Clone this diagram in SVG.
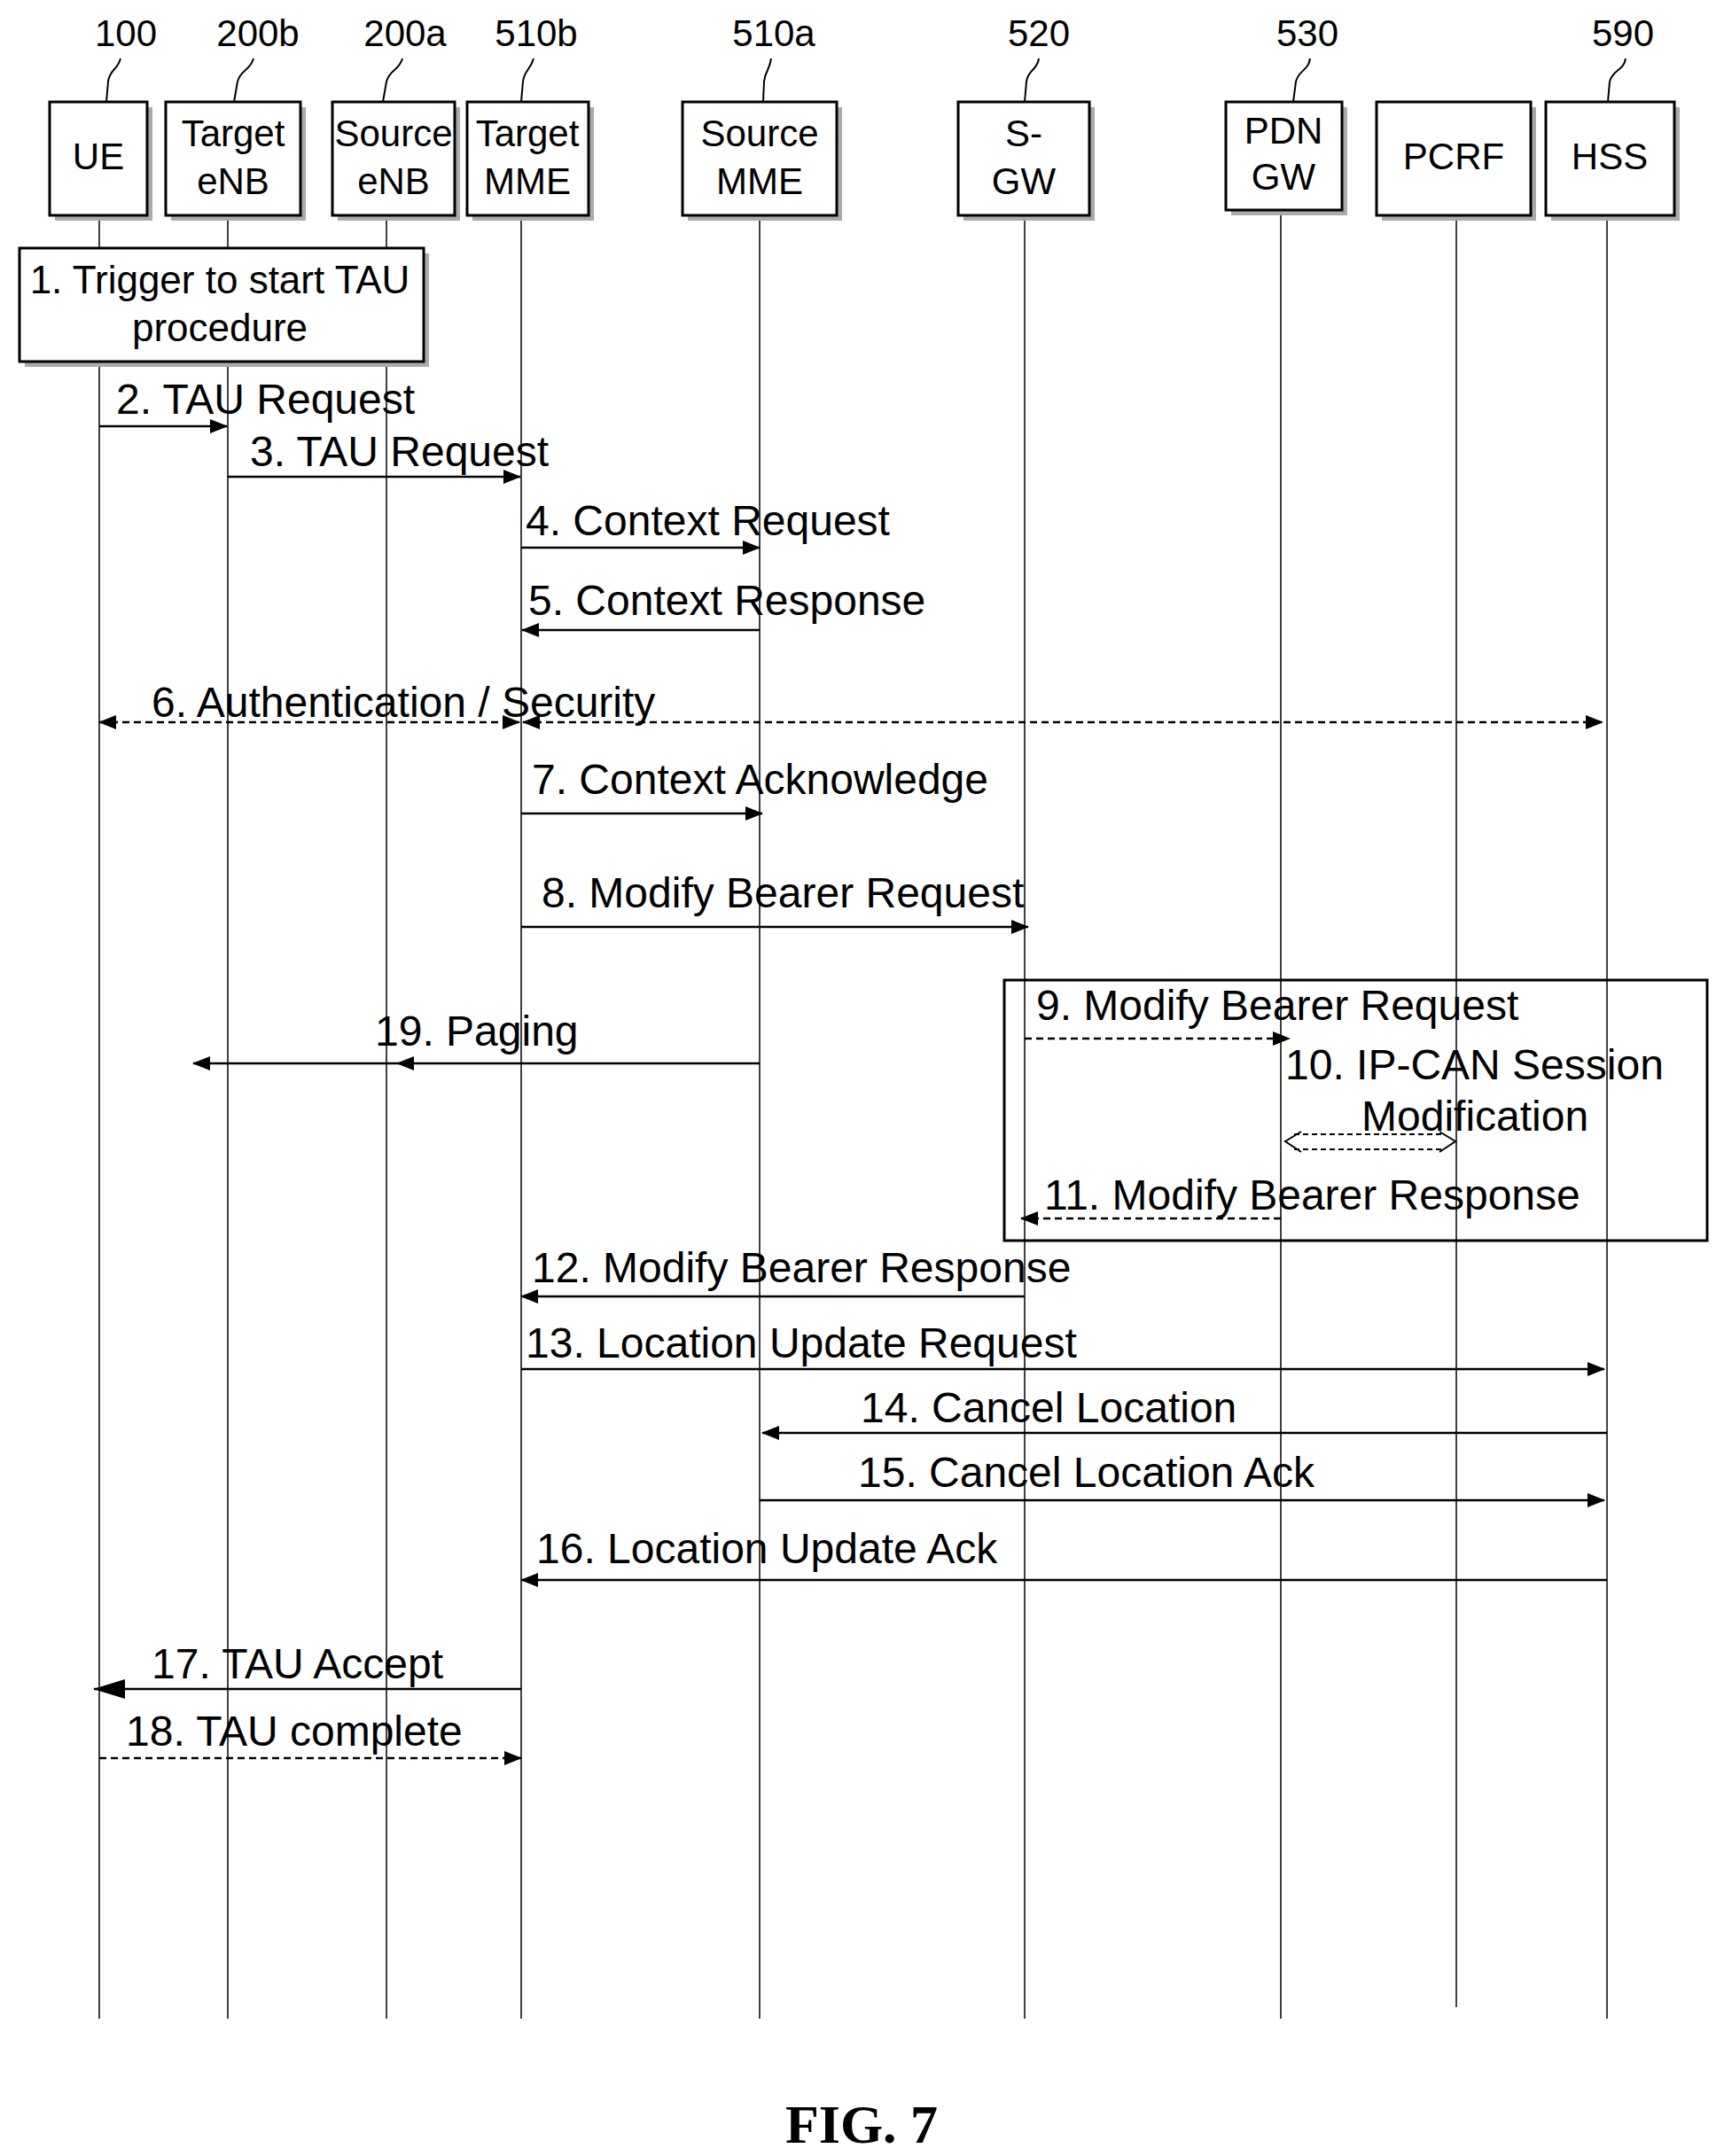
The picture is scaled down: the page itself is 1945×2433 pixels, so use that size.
<svg xmlns="http://www.w3.org/2000/svg" width="1945" height="2433" viewBox="0 0 1945 2433">
<defs>
<marker id="a" viewBox="0 0 20 16" refX="19" refY="8" markerWidth="20" markerHeight="16" markerUnits="userSpaceOnUse" orient="auto-start-reverse"><path d="M0,0 L20,8 L0,16 Z" fill="#000"/></marker>
<marker id="big" viewBox="0 0 36 22" refX="35" refY="11" markerWidth="36" markerHeight="22" markerUnits="userSpaceOnUse" orient="auto"><path d="M0,0 L36,11 L0,22 Z" fill="#000"/></marker>
</defs>
<style>
text{font-family:"Liberation Sans",Arial,sans-serif;fill:#000}
.n{font-size:42px;text-anchor:middle}
.b{font-size:42px;text-anchor:middle}
.m{font-size:48px}
.box{fill:#fff;stroke:#000;stroke-width:3}
.sh{fill:#aaa}
.ll{stroke:#000;stroke-width:1.5;fill:none}
.s{stroke:#000;stroke-width:2.5;fill:none}
.d{stroke:#000;stroke-width:2.5;fill:none;stroke-dasharray:8,5}
.lead{stroke:#000;stroke-width:2;fill:none}
</style>
<rect width="1945" height="2433" fill="#fff"/>
<g id="lifelines">
<line class="ll" x1="112" y1="243" x2="112" y2="2278"/>
<line class="ll" x1="257" y1="243" x2="257" y2="2278"/>
<line class="ll" x1="436" y1="243" x2="436" y2="2278"/>
<line class="ll" x1="588" y1="243" x2="588" y2="2278"/>
<line class="ll" x1="857" y1="243" x2="857" y2="2278"/>
<line class="ll" x1="1156" y1="243" x2="1156" y2="2278"/>
<line class="ll" x1="1445" y1="237" x2="1445" y2="2278"/>
<line class="ll" x1="1643" y1="243" x2="1643" y2="2265"/>
<line class="ll" x1="1813" y1="243" x2="1813" y2="2278"/>
</g>
<g id="n100"><text class="n" x="142" y="52">100</text><path class="lead" d="M136,66 C132,80 124,78 122,92 L120,115"/><rect class="sh" x="62" y="121" width="110" height="128"/><rect class="box" x="56" y="115" width="110" height="128"/><text class="b" x="111" y="191">UE</text></g>
<g id="n200b"><text class="n" x="291" y="52">200b</text><path class="lead" d="M286,66 C282,80 272,78 268,92 L264,115"/><rect class="sh" x="193" y="121" width="152" height="128"/><rect class="box" x="187" y="115" width="152" height="128"/><text class="b" x="263" y="165">Target</text><text class="b" x="263" y="219">eNB</text></g>
<g id="n200a"><text class="n" x="457" y="52">200a</text><path class="lead" d="M454,66 C450,80 440,78 436,92 L432,115"/><rect class="sh" x="381" y="121" width="138" height="128"/><rect class="box" x="375" y="115" width="138" height="128"/><text class="b" x="444" y="165">Source</text><text class="b" x="444" y="219">eNB</text></g>
<g id="n510b"><text class="n" x="605" y="52">510b</text><path class="lead" d="M602,66 C598,80 592,78 590,92 L588,115"/><rect class="sh" x="533" y="121" width="137" height="128"/><rect class="box" x="527" y="115" width="137" height="128"/><text class="b" x="595" y="165">Target</text><text class="b" x="595" y="219">MME</text></g>
<g id="n510a"><text class="n" x="873" y="52">510a</text><path class="lead" d="M870,66 C868,80 864,78 862,92 L861,115"/><rect class="sh" x="776" y="121" width="174" height="128"/><rect class="box" x="770" y="115" width="174" height="128"/><text class="b" x="857" y="165">Source</text><text class="b" x="857" y="219">MME</text></g>
<g id="n520"><text class="n" x="1172" y="52">520</text><path class="lead" d="M1172,66 C1170,80 1160,78 1158,92 L1156,115"/><rect class="sh" x="1087" y="121" width="148" height="128"/><rect class="box" x="1081" y="115" width="148" height="128"/><text class="b" x="1155" y="165">S-</text><text class="b" x="1155" y="219">GW</text></g>
<g id="n530"><text class="n" x="1475" y="52">530</text><path class="lead" d="M1478,66 C1476,80 1466,78 1462,92 L1459,115"/><rect class="sh" x="1389" y="121" width="131" height="122"/><rect class="box" x="1383" y="115" width="131" height="122"/><text class="b" x="1448" y="162">PDN</text><text class="b" x="1448" y="214">GW</text></g>
<g id="npcrf"><rect class="sh" x="1559" y="121" width="174" height="128"/><rect class="box" x="1553" y="115" width="174" height="128"/><text class="b" x="1640" y="191">PCRF</text></g>
<g id="n590"><text class="n" x="1831" y="52">590</text><path class="lead" d="M1834,66 C1832,80 1820,78 1816,92 L1814,115"/><rect class="sh" x="1750" y="121" width="145" height="128"/><rect class="box" x="1744" y="115" width="145" height="128"/><text class="b" x="1816" y="191">HSS</text></g>
<g id="step1"><rect class="sh" x="28" y="286" width="456" height="128"/><rect class="box" x="22" y="280" width="456" height="128"/><text class="b" x="248" y="331" style="font-size:44px">1. Trigger to start TAU</text><text class="b" x="248" y="385" style="font-size:44px">procedure</text></g>
<g id="box9"><rect x="1133" y="1106" width="793" height="294" fill="none" stroke="#000" stroke-width="3"/></g>
<g id="connectors">
<line class="s" x1="112" y1="481" x2="256" y2="481" marker-end="url(#a)"/>
<line class="s" x1="257" y1="538" x2="587" y2="538" marker-end="url(#a)"/>
<line class="s" x1="588" y1="618" x2="857" y2="618" marker-end="url(#a)"/>
<line class="s" x1="857" y1="711" x2="589" y2="711" marker-end="url(#a)"/>
<line class="d" x1="112" y1="815" x2="586" y2="815" marker-start="url(#a)" marker-end="url(#a)"/>
<line class="d" x1="590" y1="815" x2="1808" y2="815" marker-start="url(#a)" marker-end="url(#a)"/>
<line class="s" x1="588" y1="918" x2="860" y2="918" marker-end="url(#a)"/>
<line class="s" x1="588" y1="1046" x2="1160" y2="1046" marker-end="url(#a)"/>
<line class="s" x1="857" y1="1200" x2="218" y2="1200" marker-end="url(#a)"/>
<path d="M447,1200 L467,1192 L467,1208 Z" fill="#000"/>
<line class="d" x1="1156" y1="1172" x2="1455" y2="1172" marker-end="url(#a)"/>
<line x1="1460" y1="1280" x2="1630" y2="1280" stroke="#000" stroke-width="2" stroke-dasharray="6,4"/>
<line x1="1460" y1="1297" x2="1630" y2="1297" stroke="#000" stroke-width="2" stroke-dasharray="6,4"/>
<path d="M1468,1277 L1450,1288 L1468,1300 M1624,1277 L1642,1288 L1624,1300" fill="none" stroke="#000" stroke-width="2"/>
<line class="d" x1="1445" y1="1375" x2="1152" y2="1375" marker-end="url(#a)"/>
<line class="s" x1="1156" y1="1463" x2="588" y2="1463" marker-end="url(#a)"/>
<line class="s" x1="588" y1="1545" x2="1810" y2="1545" marker-end="url(#a)"/>
<line class="s" x1="1813" y1="1617" x2="860" y2="1617" marker-end="url(#a)"/>
<line class="s" x1="857" y1="1693" x2="1810" y2="1693" marker-end="url(#a)"/>
<line class="s" x1="1813" y1="1783" x2="588" y2="1783" marker-end="url(#a)"/>
<line class="s" x1="588" y1="1906" x2="106" y2="1906" marker-end="url(#big)"/>
<line class="d" x1="112" y1="1984" x2="588" y2="1984" marker-end="url(#a)"/>
</g>
<g id="labels">
<text class="m" x="131" y="467">2. TAU Request</text>
<text class="m" x="282" y="526">3. TAU Request</text>
<text class="m" x="593" y="604">4. Context Request</text>
<text class="m" x="596" y="694">5. Context Response</text>
<text class="m" x="171" y="809">6. Authentication / Security</text>
<text class="m" x="600" y="896">7. Context Acknowledge</text>
<text class="m" x="611" y="1024">8. Modify Bearer Request</text>
<text class="m" x="1169" y="1151">9. Modify Bearer Request</text>
<text class="m" x="423" y="1180">19. Paging</text>
<text class="m" x="1450" y="1218">10. IP-CAN Session</text>
<text class="m" x="1536" y="1276">Modification</text>
<text class="m" x="1178" y="1365">11. Modify Bearer Response</text>
<text class="m" x="600" y="1447">12. Modify Bearer Response</text>
<text class="m" x="593" y="1532">13. Location Update Request</text>
<text class="m" x="971" y="1605">14. Cancel Location</text>
<text class="m" x="968" y="1678">15. Cancel Location Ack</text>
<text class="m" x="605" y="1764">16. Location Update Ack</text>
<text class="m" x="171" y="1894">17. TAU Accept</text>
<text class="m" x="142" y="1970">18. TAU complete</text>
<text x="972" y="2418" text-anchor="middle" style="font-family:'Liberation Serif','Times New Roman',serif;font-weight:bold;font-size:62px">FIG. 7</text>
</g>
</svg>
